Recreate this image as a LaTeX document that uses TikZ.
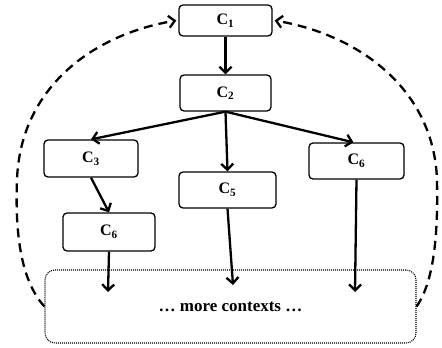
\documentclass[tikz,border=0pt]{standalone}
\usepackage{fontspec}
\setmainfont{Liberation Serif}
\usetikzlibrary{arrows.meta}

\tikzset{
  ctx/.style={draw, rounded corners=4pt, line width=1.3pt, minimum width=93pt,
    minimum height=36pt, inner sep=0pt, font=\fontsize{16}{18}\selectfont\bfseries},
  link/.style={line width=2.3pt, -{Straight Barb[length=6pt,width=12pt]}},
  loopback/.style={line width=2.3pt, dash pattern=on 9pt off 6pt,
    -{Straight Barb[length=6pt,width=12pt]}}
}

\begin{document}
\begin{tikzpicture}[x=1pt,y=-1pt]
  \useasboundingbox (0,0) rectangle (442,348);
  \node[ctx, minimum height=31pt] (c1) at (225.5,20.5) {C\textsubscript{1}};
  \node[ctx, minimum width=91pt] (c2) at (225.5,93) {C\textsubscript{2}};
  \node[ctx, minimum width=94pt, minimum height=37pt] (c3) at (91,158.5) {C\textsubscript{3}};
  \node[ctx, minimum width=97pt] (c5) at (227.5,190) {C\textsubscript{5}};
  \node[ctx, minimum width=95pt] (c6r) at (356.5,161) {C\textsubscript{6}};
  \node[ctx, minimum width=92pt, minimum height=38pt] (c6l) at (109,232) {C\textsubscript{6}};
  \node[draw, dash pattern=on 1pt off 1pt, rounded corners=10pt, line width=1.1pt,
    minimum width=371pt, minimum height=73pt, font=\fontsize{17}{20}\selectfont\bfseries]
    (more) at (230.5,306.5) {\raisebox{-3pt}{… more contexts …}};
  \coordinate (inl) at (108,292);
  \coordinate (inm) at (233,285);
  \coordinate (inr) at (355,292);
  % tree
  \draw[link] (c1) -- (c2);
  \draw[link] (c2.south) -- (c3.north);
  \draw[link] (c2.south) -- (c5.north);
  \draw[link] (c2.south) -- ([xshift=-3pt]c6r.north);
  \draw[link] (c3.south) -- (c6l.north);
  % into the rest
  \draw[link] (c6l.south) -- (inl);
  \draw[link] (c5.south) -- (inm);
  \draw[link] (c6r.south) -- (inr);
  % back to the root
  \draw[loopback] (more.west) .. controls (20,280) and (15,230) .. (17,180)
    .. controls (20,90) and (90,35) .. ([xshift=-2pt]c1.west);
  \draw[loopback] (more.east) .. controls (435,280) and (438,230) .. (437,180)
    .. controls (434,90) and (360,35) .. ([xshift=2pt]c1.east);
\end{tikzpicture}
\end{document}
